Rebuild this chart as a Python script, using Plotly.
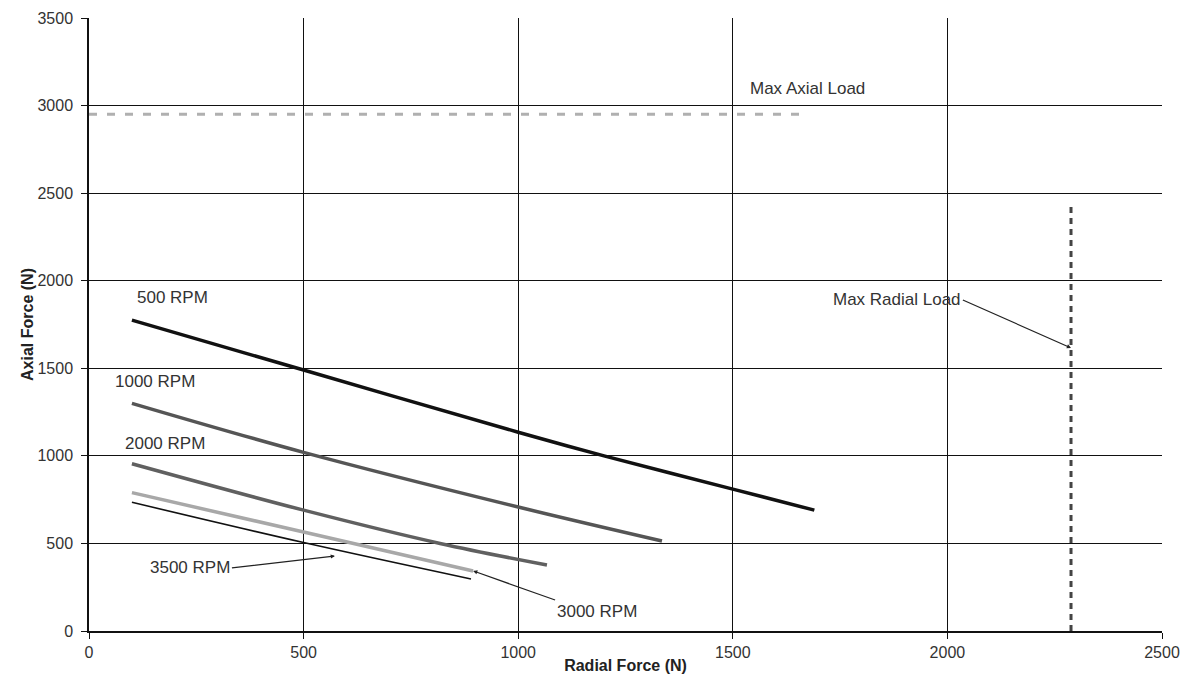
import plotly.graph_objects as go

# Radial force (N) / axial force (N) for each speed
rpm500_x = [100, 500, 1000, 1200, 1500, 1690]
rpm500_y = [1775, 1490, 1135, 1000, 810, 690]
rpm1000_x = [100, 500, 1000, 1335]
rpm1000_y = [1300, 1020, 708, 514]
rpm2000_x = [100, 500, 818, 1067]
rpm2000_y = [955, 690, 500, 377]
rpm3000_x = [100, 500, 895]
rpm3000_y = [790, 565, 343]
rpm3500_x = [100, 500, 890]
rpm3500_y = [735, 505, 297]

max_axial_x = [0, 1675]
max_axial_y = [2950, 2950]
max_radial_x = [2288, 2288]
max_radial_y = [0, 2450]

x_ticks = [0, 500, 1000, 1500, 2000, 2500]
y_ticks = [0, 500, 1000, 1500, 2000, 2500, 3000, 3500]

fig = go.Figure()
fig.add_trace(go.Scatter(x=max_axial_x, y=max_axial_y, mode="lines",
                         line=dict(color="#b0b0b0", width=3, dash="8px,10px")))
fig.add_trace(go.Scatter(x=max_radial_x, y=max_radial_y, mode="lines",
                         line=dict(color="#444444", width=3, dash="6px,5px")))
fig.add_trace(go.Scatter(x=rpm500_x, y=rpm500_y, mode="lines",
                         line=dict(color="#111111", width=3.5, shape="spline")))
fig.add_trace(go.Scatter(x=rpm1000_x, y=rpm1000_y, mode="lines",
                         line=dict(color="#555555", width=3.5, shape="spline")))
fig.add_trace(go.Scatter(x=rpm2000_x, y=rpm2000_y, mode="lines",
                         line=dict(color="#606060", width=3.5, shape="spline")))
fig.add_trace(go.Scatter(x=rpm3000_x, y=rpm3000_y, mode="lines",
                         line=dict(color="#a8a8a8", width=3.5, shape="spline")))
fig.add_trace(go.Scatter(x=rpm3500_x, y=rpm3500_y, mode="lines",
                         line=dict(color="#111111", width=1.6, shape="spline")))

txt = dict(family="Liberation Sans, Arial, sans-serif", size=17, color="#333333")
ann = []
ann.append(dict(x=107, y=1907, text="500 RPM", showarrow=False, xanchor="left", font=txt))
ann.append(dict(x=56, y=1427, text="1000 RPM", showarrow=False, xanchor="left", font=txt))
ann.append(dict(x=79, y=1073, text="2000 RPM", showarrow=False, xanchor="left", font=txt))
ann.append(dict(x=1535, y=3100, text="Max Axial Load", showarrow=False, xanchor="left", font=txt))
ann.append(dict(x=2288, y=1616, ax=2036, ay=1890, axref="x", ayref="y", text="Max Radial Load",
                showarrow=True, xanchor="right", yanchor="middle", arrowhead=2, arrowsize=0.7,
                arrowwidth=1.2, arrowcolor="#222222", font=txt))
ann.append(dict(x=573, y=428, ax=333, ay=360, axref="x", ayref="y", text="3500 RPM",
                showarrow=True, xanchor="right", yanchor="middle", arrowhead=2, arrowsize=0.7,
                arrowwidth=1.2, arrowcolor="#222222", font=txt))
ann.append(dict(x=895, y=343, ax=1086, ay=177, axref="x", ayref="y", text="3000 RPM",
                showarrow=True, xanchor="left", yanchor="top", arrowhead=2, arrowsize=0.7,
                arrowwidth=1.2, arrowcolor="#222222", font=txt))

tickfont = dict(family="Liberation Sans, Arial, sans-serif", size=16, color="#333333")
titlefont = dict(family="Liberation Sans, Arial, sans-serif",
                 size=16, color="#222222", weight="bold")

fig.update_layout(
    width=1186, height=689,
    margin=dict(l=81, r=32, t=10, b=66, autoexpand=False),
    plot_bgcolor="white", paper_bgcolor="white",
    showlegend=False,
    annotations=ann,
    xaxis=dict(range=[0, 2500], tickvals=x_ticks, ticktext=[str(v) for v in x_ticks],
               showgrid=True, gridcolor="#111111", gridwidth=1, zeroline=False,
               showline=True, linecolor="#111111", linewidth=1.5, automargin=True,
               ticks="outside", ticklen=6, tickcolor="#111111", tickfont=tickfont,
               ticklabelstandoff=0,
               title=dict(text="Radial Force (N)", font=titlefont, standoff=0)),
    yaxis=dict(range=[0, 3500], tickvals=y_ticks, ticktext=[str(v) for v in y_ticks],
               showgrid=True, gridcolor="#111111", gridwidth=1, zeroline=False,
               showline=True, linecolor="#111111", linewidth=1.5, automargin=True,
               ticks="outside", ticklen=6, tickcolor="#111111", tickfont=tickfont,
               ticklabelstandoff=5,
               title=dict(text="Axial Force (N)", font=titlefont, standoff=0)),
)

fig.write_html("out.html")
